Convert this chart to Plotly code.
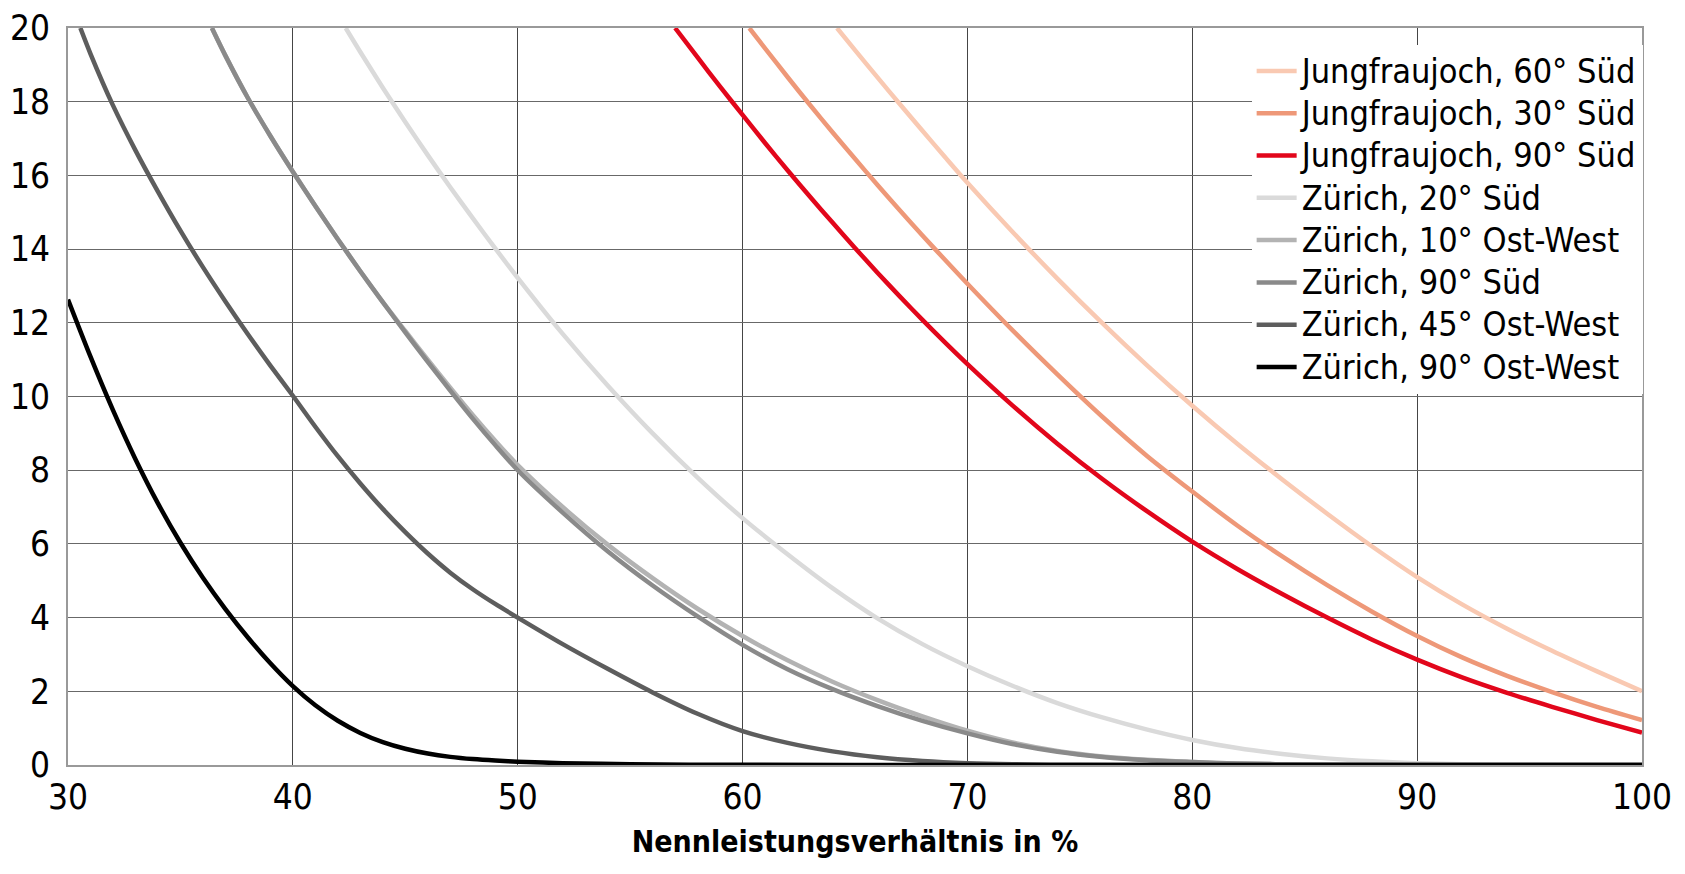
import plotly.graph_objects as go

# ---------------- data ----------------
names = [
    "Jungfraujoch, 60° Süd",
    "Jungfraujoch, 30° Süd",
    "Jungfraujoch, 90° Süd",
    "Zürich, 20° Süd",
    "Zürich, 10° Ost-West",
    "Zürich, 90° Süd",
    "Zürich, 45° Ost-West",
    "Zürich, 90° Ost-West",
]

jf60_x = [64.2, 65, 66, 67, 68, 69, 70, 72, 74, 76, 78, 80, 82, 84, 86, 88, 90, 92, 94, 96, 98, 100]
jf60_y = [20, 19.4, 18.66, 17.93, 17.21, 16.5, 15.8, 14.47, 13.2, 11.99, 10.84, 9.75, 8.72, 7.75, 6.82, 5.93, 5.1, 4.36, 3.7, 3.1, 2.54, 2.0]

jf30_x = [60.3, 61, 62, 63, 64, 65, 66, 67, 68, 69, 70, 72, 74, 76, 78, 80, 82, 84, 86, 88, 90, 92, 94, 96, 98, 100]
jf30_y = [20, 19.45, 18.67, 17.91, 17.17, 16.45, 15.74, 15.05, 14.37, 13.71, 13.06, 11.8, 10.6, 9.45, 8.38, 7.42, 6.5, 5.66, 4.88, 4.16, 3.5, 2.92, 2.42, 1.98, 1.58, 1.22]

jf90_x = [57, 58, 59, 60, 61, 62, 63, 64, 65, 66, 67, 68, 69, 70, 72, 74, 76, 78, 80, 82, 84, 86, 88, 90, 92, 94, 96, 98, 100]
jf90_y = [20, 19.2, 18.41, 17.64, 16.88, 16.14, 15.42, 14.72, 14.03, 13.36, 12.71, 12.08, 11.47, 10.88, 9.76, 8.72, 7.76, 6.88, 6.06, 5.32, 4.64, 4.0, 3.4, 2.86, 2.38, 1.96, 1.58, 1.22, 0.88]

zh20_x = [42.35, 43, 44, 45, 46, 47, 48, 49, 50, 52, 54, 56, 58, 60, 62, 64, 66, 68, 70, 72, 74, 76, 78, 80, 82, 84, 86, 88, 90, 92, 95, 100]
zh20_y = [20, 19.35, 18.38, 17.45, 16.55, 15.68, 14.84, 14.02, 13.22, 11.7, 10.3, 9.0, 7.8, 6.7, 5.72, 4.8, 3.98, 3.28, 2.68, 2.15, 1.68, 1.29, 0.96, 0.68, 0.46, 0.3, 0.18, 0.1, 0.05, 0.02, 0.005, 0]

zh10ow_x = [36.4, 37, 38, 39, 40, 41, 42, 43, 44, 45, 46, 47, 48, 49, 50, 52, 54, 56, 58, 60, 62, 64, 66, 68, 70, 72, 74, 76, 78, 80, 82, 85, 90, 100]
zh10ow_y = [20, 19.25, 18.1, 17.07, 16.1, 15.17, 14.27, 13.4, 12.56, 11.78, 11.0, 10.24, 9.5, 8.8, 8.14, 7.0, 5.98, 5.07, 4.24, 3.5, 2.84, 2.26, 1.76, 1.32, 0.93, 0.61, 0.38, 0.23, 0.14, 0.08, 0.04, 0.015, 0, 0]

zh90s_x = [36.4, 37, 38, 39, 40, 41, 42, 43, 44, 45, 46, 47, 48, 49, 50, 52, 54, 56, 58, 60, 62, 64, 66, 68, 70, 72, 74, 76, 78, 80, 82, 85, 90, 100]
zh90s_y = [20, 19.25, 18.1, 17.07, 16.1, 15.17, 14.27, 13.4, 12.56, 11.74, 10.94, 10.16, 9.4, 8.68, 8.0, 6.85, 5.8, 4.87, 4.03, 3.26, 2.6, 2.06, 1.6, 1.2, 0.86, 0.57, 0.36, 0.22, 0.13, 0.08, 0.04, 0.015, 0, 0]

zh45ow_x = [30.55, 31, 32, 33, 34, 35, 36, 37, 38, 39, 40, 41, 42, 43, 44, 45, 46, 47, 48, 49, 50, 52, 54, 56, 58, 60, 62, 64, 66, 68, 70, 72, 75, 80, 100]
zh45ow_y = [20, 19.3, 17.9, 16.68, 15.56, 14.5, 13.51, 12.58, 11.69, 10.84, 10.02, 9.18, 8.38, 7.64, 6.95, 6.32, 5.74, 5.22, 4.77, 4.37, 4.0, 3.28, 2.61, 1.97, 1.39, 0.92, 0.6, 0.37, 0.21, 0.11, 0.05, 0.02, 0.005, 0, 0]

zh90ow_x = [30, 31, 32, 33, 34, 35, 36, 37, 38, 39, 40, 41, 42, 43, 44, 45, 46, 47, 48, 49, 50, 52, 55, 60, 65, 100]
zh90ow_y = [12.63, 11.08, 9.63, 8.3, 7.1, 6.03, 5.08, 4.23, 3.46, 2.76, 2.14, 1.62, 1.2, 0.87, 0.62, 0.44, 0.31, 0.22, 0.16, 0.12, 0.09, 0.05, 0.02, 0.005, 0, 0]

series_x = [jf60_x, jf30_x, jf90_x, zh20_x, zh10ow_x, zh90s_x, zh45ow_x, zh90ow_x]
series_y = [jf60_y, jf30_y, jf90_y, zh20_y, zh10ow_y, zh90s_y, zh45ow_y, zh90ow_y]

x_ticks = [30, 40, 50, 60, 70, 80, 90, 100]
y_ticks = [0, 2, 4, 6, 8, 10, 12, 14, 16, 18, 20]
x_title = "Nennleistungsverhältnis in %"

# ---------------- styles ----------------
colors = ["#f9c9b2", "#ee9878", "#e2061b", "#dadada", "#b3b3b3", "#8a8a8a", "#5d5d5d", "#000000"]
FONT = "'DejaVu Sans Condensed', 'Liberation Sans Narrow', 'Arial Narrow', sans-serif"

fig = go.Figure()
for n, xs, ys, c in zip(names, series_x, series_y, colors):
    fig.add_trace(go.Scatter(
        x=xs, y=ys, mode="lines", name="<span style='font-size:34px'>" + n + "</span>",
        line=dict(color=c, width=4.5, shape="spline", smoothing=0.8),
        hoverinfo="skip",
    ))

# the page body has an 8px margin, so the figure is sized 8px smaller
fig.update_layout(
    width=1677, height=866,
    margin=dict(l=60, r=43, t=20, b=109),
    paper_bgcolor="white", plot_bgcolor="white",
    font=dict(family=FONT, size=35, color="black"),
    showlegend=True,
    legend=dict(
        x=0.752, y=0.977, xanchor="left", yanchor="top",
        bgcolor="white", borderwidth=0,
        font=dict(family=FONT, size=30.2, color="black"),
        itemwidth=40, tracegroupgap=0,
    ),
)
fig.update_xaxes(
    range=[30, 100], tickvals=x_ticks, ticktext=[str(v) for v in x_ticks],
    showgrid=True, gridcolor="#454545", gridwidth=1.3,
    showline=True, linecolor="#999999", linewidth=2, mirror=True,
    zeroline=False, ticks="", automargin=False,
    tickfont=dict(family=FONT, size=35, color="black"),
    title=dict(text="<b>" + x_title + "</b>", font=dict(family=FONT, size=30, color="black"), standoff=15),
)
fig.update_yaxes(
    range=[0, 20], tickvals=y_ticks, ticktext=[str(v) for v in y_ticks],
    showgrid=True, gridcolor="#686868", gridwidth=1.3,
    showline=True, linecolor="#999999", linewidth=2, mirror=True,
    zeroline=False, ticks="", ticklabelstandoff=9, automargin=False,
    tickfont=dict(family=FONT, size=35, color="black"),
)

fig.write_html("out.html")
